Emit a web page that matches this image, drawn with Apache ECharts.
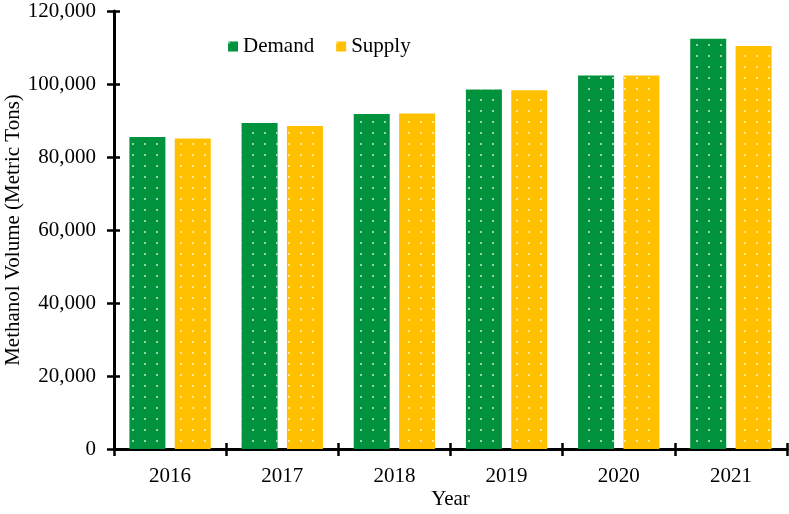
<!DOCTYPE html>
<html>
<head>
<meta charset="utf-8">
<script src="https://cdn.jsdelivr.net/npm/echarts@6/dist/echarts.min.js"></script>
<style>
  html, body { margin: 0; padding: 0; background: #fff; }
  #grafico { width: 789px; height: 514px; }
</style>
</head>
<body>
<div id="grafico"></div>
<script>
var anios = ["2016", "2017", "2018", "2019", "2020", "2021"];
var demanda = [85500, 89300, 91800, 98500, 102300, 112400];
var oferta = [85100, 88500, 91900, 98300, 102300, 110400];
var ejeY = { min: 0, max: 120000, intervalo: 20000 };

var fuente = "Liberation Serif, Times New Roman, serif";

function conComas(v){
    return String(v).replace(/\B(?=(\d{3})+(?!\d))/g, ",");
}

function puntos(){
    return {
        symbol: "rect",
        symbolSize: 1,
        dashArrayX: [2, 10],
        dashArrayY: [2, 9],
        color: "rgba(255,255,255,0.6)"
    };
}

var dom = document.getElementById("grafico");
var myChart = echarts.init(dom);
var option = {
    animation: false,
    textStyle: { fontFamily: fuente, color: "#000" },
    grid: { left: 114, right: 2, top: 11, bottom: 65, outerBoundsMode: "none", containLabel: false },
    legend: {
        left: 223,
        top: 31,
        itemWidth: 10,
        itemHeight: 10,
        itemGap: 22,
        icon: "rect",
        textStyle: { fontFamily: fuente, fontSize: 21, color: "#000" },
        data: ["Demand", "Supply"]
    },
    xAxis: [{
        type: "category",
        data: anios,
        name: "Year",
        nameLocation: "middle",
        nameGap: 40,
        nameMoveOverlap: false,
        nameTextStyle: { fontFamily: fuente, fontSize: 21, color: "#000" },
        axisLine: { lineStyle: { color: "#000", width: 3 } },
        axisTick: { show: true, length: 7, lineStyle: { color: "#000", width: 2.5 } },
        axisLabel: { margin: 17, fontFamily: fuente, fontSize: 21, color: "#000" }
    }, {
        type: "category",
        data: anios,
        position: "bottom",
        axisLine: { show: false },
        axisTick: { show: true, inside: true, length: 6, lineStyle: { color: "#000", width: 2.5 } },
        axisLabel: { show: false }
    }],
    yAxis: [{
        type: "value",
        min: ejeY.min,
        max: ejeY.max,
        interval: ejeY.intervalo,
        name: "Methanol Volume (Metric Tons)",
        nameLocation: "middle",
        nameGap: 90,
        nameMoveOverlap: false,
        nameTextStyle: { fontFamily: fuente, fontSize: 21, color: "#000" },
        splitLine: { show: false },
        axisLine: { show: true, lineStyle: { color: "#000", width: 3 } },
        axisTick: { show: true, length: 7, lineStyle: { color: "#000", width: 2.5 } },
        axisLabel: { margin: 18, fontFamily: fuente, fontSize: 21, color: "#000", formatter: conComas }
    }, {
        type: "value",
        min: ejeY.min,
        max: ejeY.max,
        interval: ejeY.intervalo,
        position: "left",
        splitLine: { show: false },
        axisLine: { show: false },
        axisTick: { show: true, inside: true, length: 6, lineStyle: { color: "#000", width: 2.5 } },
        axisLabel: { show: false }
    }],
    series: [{
        name: "Demand",
        type: "bar",
        data: demanda,
        barWidth: 36,
        barGap: "26%",
        itemStyle: { color: "#00923c", decal: puntos() }
    }, {
        name: "Supply",
        type: "bar",
        data: oferta,
        barWidth: 36,
        barGap: "26%",
        itemStyle: { color: "#ffc000", decal: puntos() }
    }]
};
myChart.setOption(option, true);

window.addEventListener("resize", function(){
    if(myChart != null && myChart != undefined){
        myChart.resize();
    }
});
</script>
</body>
</html>
